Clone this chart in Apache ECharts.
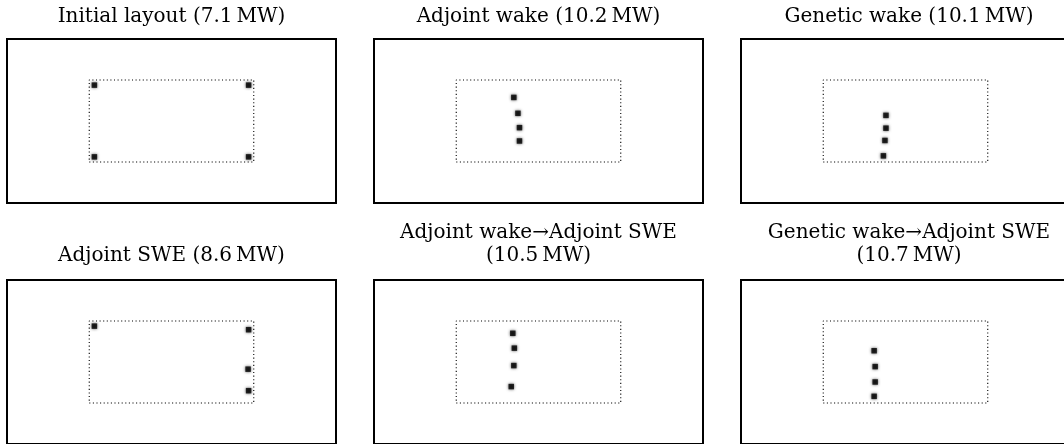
<!DOCTYPE html>
<html>
<head>
<meta charset="utf-8">
<script src="https://cdn.jsdelivr.net/npm/echarts@6/dist/echarts.min.js"></script>
<style>
html,body{margin:0;padding:0;background:#fff;}
#chart{width:1064px;height:444px;}
</style>
</head>
<body>
<div id="chart"></div>
<script>
// Domain and site extents (metres)
const domainX = [0, 640];
const domainY = [0, 320];
const siteX = [160, 480];
const siteY = [80, 240];

// Panel titles
const titles = [
  ['Initial layout (7.1\u2009MW)'],
  ['Adjoint wake (10.2\u2009MW)'],
  ['Genetic wake (10.1\u2009MW)'],
  ['Adjoint SWE (8.6\u2009MW)'],
  ['Adjoint wake\u2192Adjoint SWE', '(10.5\u2009MW)'],
  ['Genetic wake\u2192Adjoint SWE', '(10.7\u2009MW)']
];

// Turbine positions [x, y] per layout
const initialLayout     = [[170, 230], [470, 230], [170, 90], [470, 90]];
const adjointWake       = [[272, 206], [280, 175], [283, 147], [283, 121]];
const geneticWake       = [[282, 171], [282, 146], [280, 122], [277, 92]];
const adjointSWE        = [[170, 230], [470, 223], [469, 146], [470, 104]];
const adjointWakeToSWE  = [[270, 216], [273, 187], [272, 153], [267, 112]];
const geneticWakeToSWE  = [[259, 182], [261, 151], [261, 121], [259, 93]];

const layouts = [initialLayout, adjointWake, geneticWake, adjointSWE, adjointWakeToSWE, geneticWakeToSWE];

// Layout (pixels)
const colLeft = [7, 374, 741];
const rowTop = [39, 280];
const panelW = 329, panelH = 164;
const titleCx = [171.5, 538.5, 909];

const chart = echarts.init(document.getElementById('chart'), null, {renderer: 'canvas'});

const grids = [], xAxes = [], yAxes = [], series = [], graphics = [];
const siteRect = [
  [siteX[0], siteY[0]], [siteX[1], siteY[0]], [siteX[1], siteY[1]], [siteX[0], siteY[1]], [siteX[0], siteY[0]]
];
const FONT = '20px "DejaVu Serif", serif';

layouts.forEach((pts, i) => {
  const r = Math.floor(i / 3), c = i % 3;
  grids.push({
    left: colLeft[c], top: rowTop[r], width: panelW, height: panelH,
    outerBoundsMode: 'none', containLabel: false,
    show: true, borderColor: '#000', borderWidth: 2, backgroundColor: 'transparent'
  });
  xAxes.push({type: 'value', gridIndex: i, min: domainX[0], max: domainX[1], show: false});
  yAxes.push({type: 'value', gridIndex: i, min: domainY[0], max: domainY[1], show: false});
  series.push({
    type: 'line', xAxisIndex: i, yAxisIndex: i, data: siteRect, symbol: 'none',
    lineStyle: {color: '#000', width: 1.1, type: [1.1, 2.5]}, silent: true, animation: false
  });
  series.push({
    type: 'scatter', xAxisIndex: i, yAxisIndex: i, data: pts, symbol: 'rect', symbolSize: 5.5,
    itemStyle: {color: '#000', shadowBlur: 3, shadowColor: 'rgba(0,0,0,0.85)'}, animation: false
  });
  const t = titles[i];
  if (t.length === 1) {
    graphics.push({type: 'text', silent: true,
      style: {text: t[0], x: titleCx[c], y: r === 0 ? 17 : 256, align: 'center', verticalAlign: 'middle', font: FONT, fill: '#000'}});
  } else {
    graphics.push({type: 'text', silent: true,
      style: {text: t[0], x: titleCx[c], y: 233, align: 'center', verticalAlign: 'middle', font: FONT, fill: '#000'}});
    graphics.push({type: 'text', silent: true,
      style: {text: t[1], x: titleCx[c], y: 256, align: 'center', verticalAlign: 'middle', font: FONT, fill: '#000'}});
  }
});

chart.setOption({
  animation: false,
  backgroundColor: '#fff',
  grid: grids,
  xAxis: xAxes,
  yAxis: yAxes,
  series: series,
  graphic: graphics
});
</script>
</body>
</html>
